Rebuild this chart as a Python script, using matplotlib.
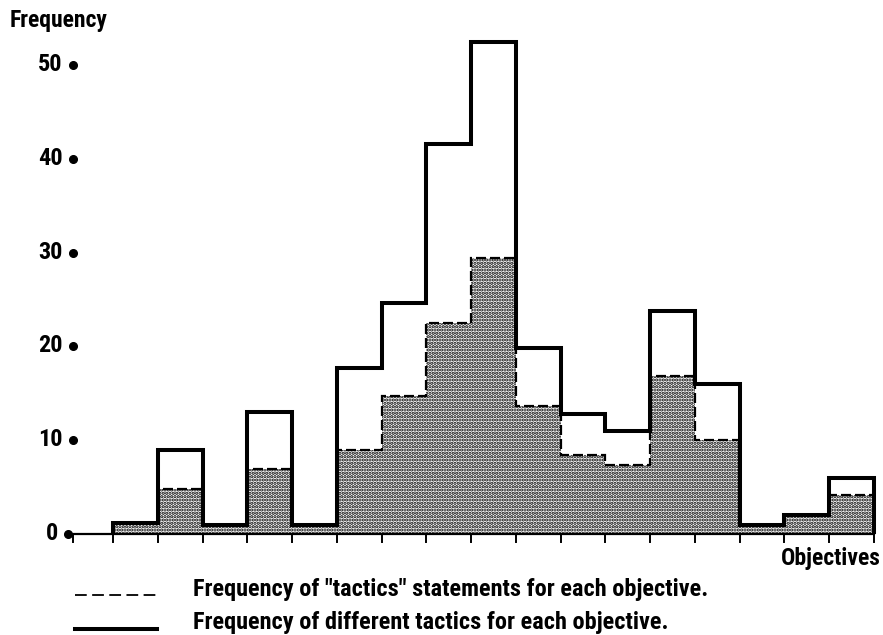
import matplotlib
matplotlib.use("Agg")
import matplotlib.pyplot as plt
import numpy as np
from matplotlib import font_manager

# ---- data ----
objectives = list(range(1, 18))
different_tactics = [1.2, 9, 1, 13, 1, 17.7, 24.6, 41.6, 52.4, 19.8, 12.8, 11, 23.8, 16, 1, 2, 6]
tactics_statements = [1.2, 4.8, 1, 6.9, 1, 9, 14.7, 22.5, 29.4, 13.6, 8.4, 7.4, 16.8, 10, 1, 2, 4.2]
y_ticks = [0, 10, 20, 30, 40, 50]
y_label = "Frequency"
x_label = "Objectives"
legend_dashed = "Frequency of \u2033tactics\u2033 statements for each objective."
legend_solid = "Frequency of different tactics for each objective."

avail = {f.name for f in font_manager.fontManager.ttflist}
prefs = ['Roboto Condensed', 'Barlow Semi Condensed', 'Asap Condensed', 'Encode Sans Condensed',
         'Archivo Narrow', 'Liberation Sans Narrow', 'DejaVu Sans']
fam = next(p for p in prefs if p in avail)
plt.rcParams['font.family'] = [fam, 'DejaVu Sans']
plt.rcParams['font.weight'] = 'bold'
plt.rcParams['hatch.color'] = 'black'
plt.rcParams['hatch.linewidth'] = 1.6

fig = plt.figure(figsize=(8.83, 6.35), dpi=100)
ax = fig.add_axes([0, 0, 1, 1])
ax.set_axis_off()

edges = np.arange(len(objectives) + 1)
ax.set_xlim(-2.525, 17.203)
ax.set_ylim(-10.77, 56.93)

# stippled area (tactics statements)
ax.stairs(tactics_statements, edges, baseline=0, fill=True, facecolor='white',
          edgecolor='black', hatch='.....', linewidth=0, zorder=1)
# dashed outline
ax.stairs(tactics_statements, edges, baseline=None, color='black', linestyle=(0, (4.5, 1.8)),
          linewidth=1.6, zorder=2)
# solid outline (different tactics)
ax.stairs(different_tactics, edges, baseline=0, color='black', linewidth=2.9, zorder=3)

# x axis line and ticks
ax.plot([-0.98, edges[-1]], [0, 0], color='black', linewidth=1.6, zorder=4)
tick_x = [-0.894] + list(edges)
for tx in tick_x:
    ax.plot([tx, tx], [0, -0.9], color='black', linewidth=1.4, zorder=4)

# y axis dots and labels
for yt in y_ticks:
    dx = -1.0 if yt == 0 else -0.894
    ax.plot([dx], [yt], 'o', color='black', markersize=5.5, zorder=5)
    ax.text(dx - 0.23, yt - 0.64, str(yt), ha='right', va='baseline', fontsize=17.5,
            fontweight='bold')

ax.text(-2.3, 54.0, y_label, ha='left', va='baseline', fontsize=17, fontweight='bold')
ax.text(17.15, -3.3, x_label, ha='right', va='baseline', fontsize=17, fontweight='bold')

# legend
ax.plot([-0.85, 1.03], [-6.5, -6.5], color='black', linestyle=(0, (6.5, 3)), linewidth=1.3)
ax.plot([-0.85, 0.98], [-10.1, -10.1], color='black', linewidth=2.9)
ax.text(1.79, -6.61, legend_dashed, ha='left', va='baseline', fontsize=17.5, fontweight='bold')
ax.text(1.79, -10.13, legend_solid, ha='left', va='baseline', fontsize=17.5, fontweight='bold')

fig.savefig("out.png", dpi=100)
